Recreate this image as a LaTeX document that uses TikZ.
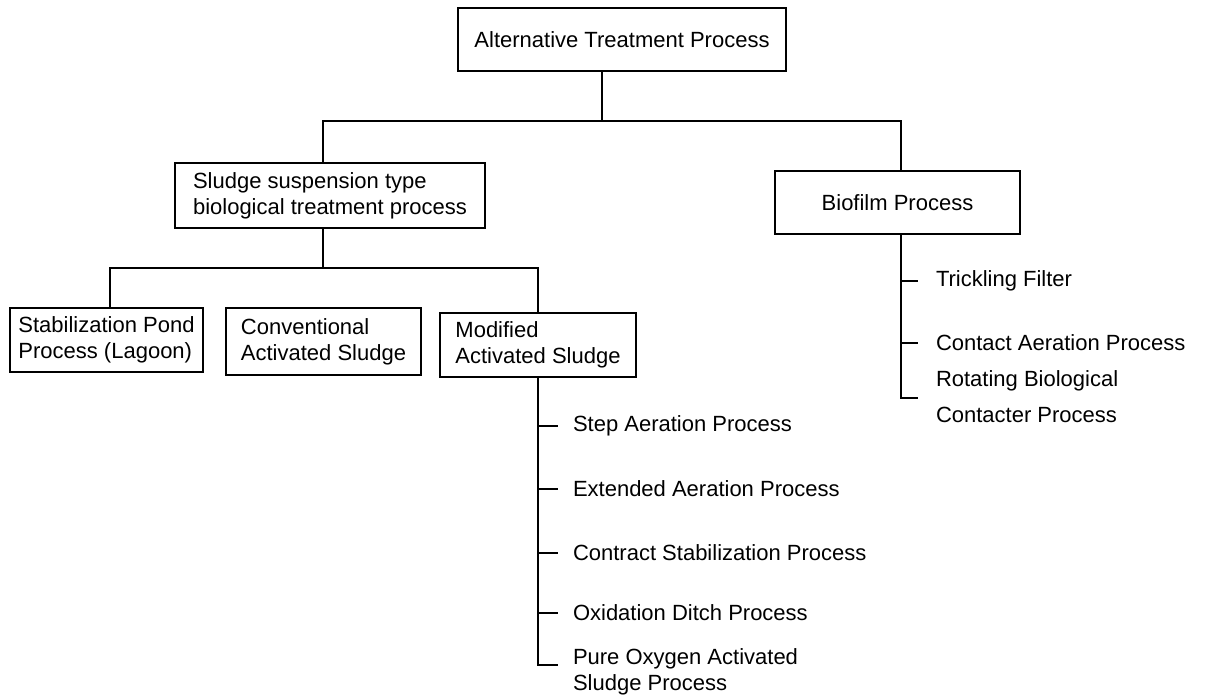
\documentclass[tikz,border=0pt]{standalone}
\usepackage{fontspec}
\setmainfont{Liberation Sans}

\begin{document}
\begin{tikzpicture}[
  x=0.5pt, y=-0.5pt,
  line width=1pt,
  procbox/.style={
    draw,
    inner sep=0pt,
    align=left,
    font=\fontsize{11}{13}\selectfont
  },
  method/.style={
    anchor=west,
    inner sep=0pt,
    align=left,
    font=\fontsize{11}{13}\selectfont
  }
]
  \useasboundingbox (0,0) rectangle (1207,698);

  % boxes
  \node[procbox,align=center,minimum width=164pt,minimum height=31.5pt] (alt) at (622,39.5) {Alternative Treatment Process};
  \node[procbox,minimum width=155pt,minimum height=32.5pt] (sludge) at (330,195.5) {Sludge suspension type\\biological treatment process};
  \node[procbox,align=center,minimum width=122.5pt,minimum height=31.5pt] (bio) at (897.5,202.5) {Biofilm Process};
  \node[procbox,minimum width=96.5pt,minimum height=32pt] (stab) at (106.5,340) {Stabilization Pond\\Process (Lagoon)};
  \node[procbox,minimum width=97.5pt,minimum height=33.5pt] (conv) at (323.5,341.5) {Conventional\\Activated Sludge};
  \node[procbox,minimum width=98pt,minimum height=32pt] (mod) at (538,345) {Modified\\Activated Sludge};

  % modified activated sludge variants
  \node[method] (step) at (572,426) {Step Aeration Process};
  \node[method] (extended) at (572,489) {Extended Aeration Process};
  \node[method] (contract) at (572,553) {Contract Stabilization Process};
  \node[method] (oxidation) at (572,613) {Oxidation Ditch Process};
  \node[method] (pure) at (572,672) {Pure Oxygen Activated\\Sludge Process};

  % biofilm variants
  \node[method] (trickling) at (935,281) {Trickling Filter};
  \node[method] (contact) at (935,343) {Contact Aeration Process};
  \node[method] (rotating) at (935,397) {Rotating Biological\\[5pt]Contacter Process};

  % tree lines
  \coordinate (altjoin) at (602,121);
  \coordinate (sludgejoin) at (323,121);
  \coordinate (biojoin) at (901,121);
  \draw (altjoin |- alt.south) -- (altjoin);
  \draw (sludge.north -| sludgejoin) -- (sludgejoin) -- (biojoin) -- (bio.north -| biojoin);

  \coordinate (splitjoin) at (323,268);
  \coordinate (stabjoin) at (110,268);
  \coordinate (modjoin) at (538,268);
  \draw (splitjoin |- sludge.south) -- (splitjoin);
  \draw (stab.north -| stabjoin) -- (stabjoin) -- (modjoin) -- (mod.north -| modjoin);

  \coordinate (modend) at (538,665);
  \draw (mod.south -| modend) -- (modend) -- ++(20,0);
  \draw (step.west -| modend) -- ++(20,0);
  \draw (extended.west -| modend) -- ++(20,0);
  \draw (contract.west -| modend) -- ++(20,0);
  \draw (oxidation.west -| modend) -- ++(20,0);

  \coordinate (bioend) at (901,398);
  \draw (bio.south -| bioend) -- (bioend) -- ++(17,0);
  \draw (trickling.west -| bioend) -- ++(17,0);
  \draw (contact.west -| bioend) -- ++(17,0);
\end{tikzpicture}
\end{document}
